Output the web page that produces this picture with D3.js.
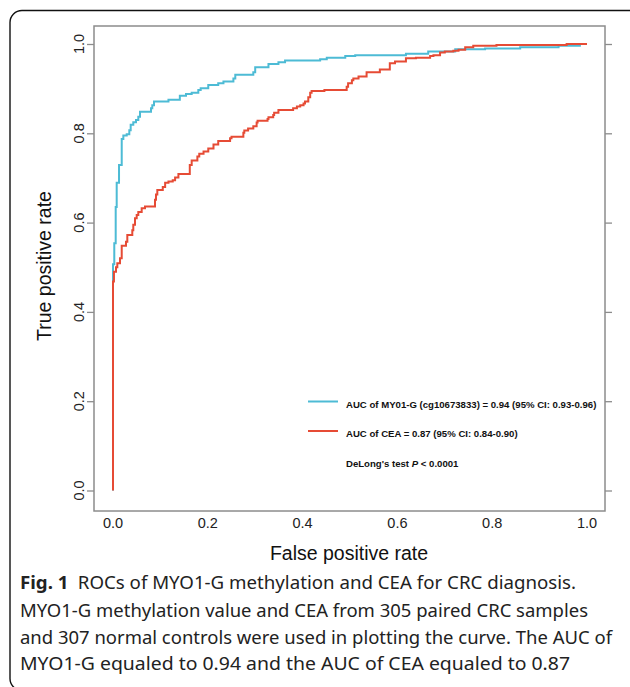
<!DOCTYPE html>
<html>
<head>
<meta charset="utf-8">
<script src="https://cdn.jsdelivr.net/npm/d3@7"></script>
<style>
  html, body { margin: 0; padding: 0; background: #fff; }
  svg { display: block; }
</style>
</head>
<body>
<svg id="ctner"></svg>
<script>
// ROC curve of MYO1-G methylation (cg10673833)
const myoFpr = [0, 0.0027, 0.0057, 0.0078, 0.0127, 0.0184, 0.0218, 0.0289, 0.0344, 0.0373, 0.0428,
  0.0485, 0.0534, 0.057, 0.0802, 0.0829, 0.0865, 0.117, 0.141, 0.154, 0.166, 0.18, 0.185, 0.201,
  0.222, 0.233, 0.254, 0.258, 0.296, 0.3, 0.328, 0.349, 0.363, 0.437, 0.451, 0.49, 0.511, 0.618,
  0.665, 0.722, 0.785, 0.859, 0.94, 0.985, 1];
const myoTpr = [0, 0.507, 0.554, 0.635, 0.689, 0.729, 0.787, 0.795, 0.798, 0.807, 0.819,
  0.825, 0.83, 0.837, 0.848, 0.856, 0.863, 0.871, 0.875, 0.884, 0.888, 0.891, 0.897, 0.901,
  0.908, 0.912, 0.916, 0.923, 0.931, 0.937, 0.948, 0.955, 0.959, 0.963, 0.966, 0.969, 0.973, 0.975,
  0.978, 0.983, 0.988, 0.99, 0.993, 0.996, 1];

// ROC curve of CEA
const ceaFpr = [0, 0.002, 0.0063, 0.0091, 0.0148, 0.0184, 0.0274, 0.0302, 0.0407, 0.0428, 0.0464,
  0.05, 0.0534, 0.0605, 0.0675, 0.0886, 0.0907, 0.0935, 0.105, 0.11, 0.117, 0.126, 0.131, 0.138,
  0.162, 0.166, 0.178, 0.182, 0.191, 0.201, 0.212, 0.222, 0.247, 0.25, 0.275, 0.277, 0.285, 0.296,
  0.303, 0.305, 0.326, 0.328, 0.338, 0.34, 0.349, 0.38, 0.388, 0.395, 0.402, 0.405, 0.412, 0.416,
  0.419, 0.446, 0.493, 0.496, 0.504, 0.507, 0.518, 0.535, 0.563, 0.584, 0.586, 0.595, 0.618, 0.639,
  0.669, 0.676, 0.69, 0.7, 0.718, 0.729, 0.743, 0.76, 0.809, 0.957, 1];
const ceaTpr = [0, 0.468, 0.49, 0.5, 0.509, 0.52, 0.548, 0.557, 0.572, 0.583, 0.595,
  0.61, 0.617, 0.624, 0.632, 0.636, 0.651, 0.663, 0.673, 0.68, 0.689, 0.692, 0.695, 0.701,
  0.709, 0.729, 0.739, 0.748, 0.754, 0.759, 0.766, 0.775, 0.783, 0.789, 0.792, 0.801, 0.806, 0.811,
  0.816, 0.824, 0.828, 0.832, 0.836, 0.841, 0.846, 0.852, 0.856, 0.86, 0.863, 0.867, 0.871, 0.881,
  0.891, 0.895, 0.897, 0.904, 0.912, 0.919, 0.923, 0.927, 0.937, 0.943, 0.957, 0.957, 0.961, 0.968,
  0.969, 0.973, 0.975, 0.981, 0.983, 0.985, 0.987, 0.993, 0.996, 0.998, 1];

const tickValues = [0, 0.2, 0.4, 0.6, 0.8, 1.0];
const legendLabels = [
  "AUC of MY01-G (cg10673833) = 0.94 (95% CI: 0.93-0.96)",
  "AUC of CEA = 0.87 (95% CI: 0.84-0.90)"
];
const captionLines = [
  "ROCs of MYO1-G methylation and CEA for CRC diagnosis.",
  "MYO1-G methylation value and CEA from 305 paired CRC samples",
  "and 307 normal controls were used in plotting the curve. The AUC of",
  "MYO1-G equaled to 0.94 and the AUC of CEA equaled to 0.87"
];

main();

function main() {
  const width = 630;
  const height = 687;
  const svg = d3.select("#ctner").attr("width", width).attr("height", height);

  // panel frame (figure card)
  svg.append("rect")
    .attr("x", 10).attr("y", 10.5)
    .attr("width", 700).attr("height", 680)
    .attr("rx", 12)
    .attr("fill", "#fff")
    .attr("stroke", "#111")
    .attr("stroke-width", 1.4);

  /* scales */
  const x = d3.scaleLinear().domain([0, 1]).range([113, 587]);
  const y = d3.scaleLinear().domain([0, 1]).range([490.5, 44]);
  const box = { left: 94, right: 605, top: 26, bottom: 511 };

  /* box + ticks */
  svg.append("rect")
    .attr("x", box.left).attr("y", box.top)
    .attr("width", box.right - box.left).attr("height", box.bottom - box.top)
    .attr("fill", "none")
    .attr("stroke", "#8c8c8c")
    .attr("stroke-width", 1.5);

  const leftAxis = svg.append("g")
    .attr("transform", `translate(${box.left}, 0)`)
    .call(d3.axisLeft(y).tickValues(tickValues).tickSize(7).tickFormat(""))
    .call((g) => g.select(".domain").remove());
  leftAxis.selectAll(".tick line").attr("stroke", "#8c8c8c").attr("stroke-width", 1.3);

  const rightAxis = svg.append("g")
    .attr("transform", `translate(${box.right}, 0)`)
    .call(d3.axisRight(y).tickValues(tickValues).tickSize(7).tickFormat(""))
    .call((g) => g.select(".domain").remove());
  rightAxis.selectAll(".tick line").attr("stroke", "#8c8c8c").attr("stroke-width", 1.3);

  // y tick labels, rotated like R's default
  svg.append("g")
    .selectAll("text")
    .data(tickValues)
    .join("text")
    .attr("transform", (d) => `translate(79, ${y(d)}) rotate(-90)`)
    .attr("text-anchor", "middle")
    .attr("dy", "0.36em")
    .style("font", "14.5px 'Liberation Sans', Arial, sans-serif")
    .attr("fill", "#222")
    .text((d) => d.toFixed(1));

  // x tick labels (no tick marks)
  svg.append("g")
    .selectAll("text")
    .data(tickValues)
    .join("text")
    .attr("x", (d) => x(d))
    .attr("y", 528)
    .attr("text-anchor", "middle")
    .style("font", "14.5px 'Liberation Sans', Arial, sans-serif")
    .attr("fill", "#222")
    .text((d) => d.toFixed(1));

  /* axis titles */
  svg.append("text")
    .attr("x", 349).attr("y", 560)
    .attr("text-anchor", "middle")
    .style("font", "19.5px 'Liberation Sans', Arial, sans-serif")
    .attr("fill", "#111")
    .text("False positive rate");
  svg.append("text")
    .attr("transform", "translate(51, 266) rotate(-90)")
    .attr("text-anchor", "middle")
    .style("font", "19.5px 'Liberation Sans', Arial, sans-serif")
    .attr("fill", "#111")
    .text("True positive rate");

  /* curves */
  const line = d3.line()
    .x((d) => x(d[0]))
    .y((d) => y(d[1]))
    .curve(d3.curveStepBefore);
  const series = [
    { key: "MYO1-G", color: "#4DBBD5", values: d3.zip(myoFpr, myoTpr) },
    { key: "CEA", color: "#E64B35", values: d3.zip(ceaFpr, ceaTpr) }
  ];
  svg.append("g")
    .selectAll("path")
    .data(series)
    .join("path")
    .attr("fill", "none")
    .attr("stroke", (d) => d.color)
    .attr("stroke-width", 2)
    .attr("stroke-linejoin", "miter")
    .attr("d", (d) => line(d.values));

  /* legend */
  const legend = svg.append("g").style("font", "bold 9.6px 'Liberation Sans', Arial, sans-serif");
  const legendY = [401.5, 431];
  series.forEach((s, i) => {
    legend.append("line")
      .attr("x1", 308).attr("x2", 338)
      .attr("y1", legendY[i]).attr("y2", legendY[i])
      .attr("stroke", s.color).attr("stroke-width", 2);
    legend.append("text")
      .attr("x", 346).attr("y", legendY[i] + 6)
      .attr("fill", "#111")
      .text(legendLabels[i]);
  });
  const delong = legend.append("text").attr("x", 346).attr("y", 467).attr("fill", "#111");
  delong.append("tspan").text("DeLong's test ");
  delong.append("tspan").style("font-style", "italic").text("P");
  delong.append("tspan").text(" < 0.0001");

  /* caption */
  const capFont = "18.5px 'Noto Sans', 'Open Sans', sans-serif";
  const capY = [589, 617, 644, 670];
  const capLen = [556, 568, 592, 550];
  captionLines.forEach((t, i) => {
    const txt = svg.append("text")
      .attr("x", 20).attr("y", capY[i])
      .attr("textLength", capLen[i])
      .attr("lengthAdjust", "spacingAndGlyphs")
      .style("font", capFont)
      .attr("fill", "#222");
    if (i === 0) {
      txt.append("tspan").style("font-weight", "bold").text("Fig. 1");
      txt.append("tspan").text("\u2002" + t);
    } else {
      txt.text(t);
    }
  });
}
</script>
</body>
</html>
